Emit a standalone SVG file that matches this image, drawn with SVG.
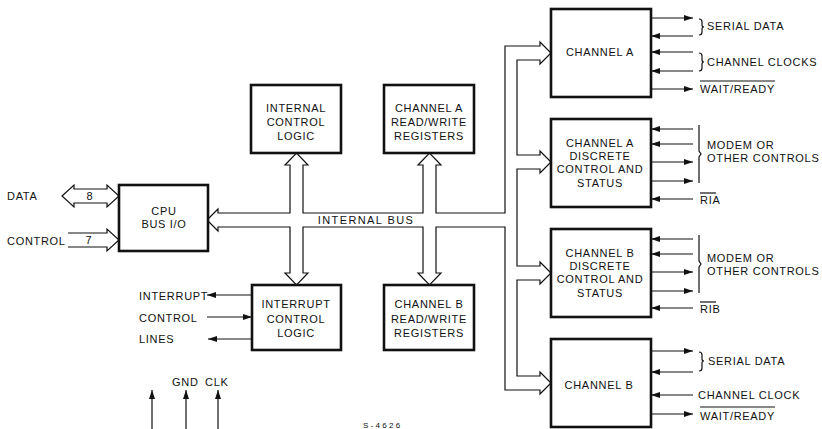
<svg xmlns="http://www.w3.org/2000/svg" width="822" height="429" viewBox="0 0 822 429">
<defs>
<style>
text{font-family:"Liberation Sans","DejaVu Sans",Arial,sans-serif;font-size:11px;letter-spacing:0.7px;fill:#111}
.c{text-anchor:middle}
.box{fill:#fff;stroke:#111;stroke-width:2.6}
.ln{fill:none;stroke:#111;stroke-width:1.2}
.sig{fill:none;stroke:#111;stroke-width:1.2;marker-end:url(#ah)}
.hol{fill:#fff;stroke:#111;stroke-width:1.2;stroke-linejoin:miter}
</style>
<marker id="ah" markerWidth="9" markerHeight="6" refX="9" refY="3" orient="auto" markerUnits="userSpaceOnUse"><path d="M0,0 L9,3 L0,6 z" fill="#111"/></marker>
</defs>
<rect width="822" height="429" fill="#fff"/>

<g id="connectors">
<!-- internal bus -->
<path class="hol" d="M207,220 L218,209 L218,213 L290,213 L290,165 L285,165 L296.5,153 L308,165 L303,165 L303,213 L423,213 L423,165 L418,165 L429.5,153 L441,165 L436,165 L436,213 L505,213 L505,46 L540,46 L540,42 L551,53 L540,64 L540,60 L517,60 L517,155 L540,155 L540,151 L551,162 L540,173 L540,169 L517,169 L517,266 L540,266 L540,262 L551,273 L540,284 L540,280 L517,280 L517,376 L540,376 L540,372 L551,383 L540,394 L540,390 L505,390 L505,227 L436,227 L436,273 L441,273 L429.5,285 L418,273 L423,273 L423,227 L303,227 L303,273 L308,273 L296.5,285 L285,273 L290,273 L290,227 L218,227 L218,231 Z"/>
<!-- data / control -->
<path class="hol" d="M62,196 L74,185 L74,189 L107,189 L107,185 L119,196 L107,207 L107,203 L74,203 L74,207 Z"/>
<path class="hol" d="M68,233 L107,233 L107,229 L119,240 L107,251 L107,247 L68,247"/>
<!-- interrupt lines -->
<line class="sig" x1="252" y1="295" x2="207" y2="295"/>
<line class="sig" x1="207" y1="317" x2="252" y2="317"/>
<line class="sig" x1="252" y1="339" x2="208" y2="339"/>
<!-- gnd / clk -->
<line class="sig" x1="152" y1="429" x2="152" y2="390"/>
<line class="sig" x1="186" y1="429" x2="186" y2="390"/>
<line class="sig" x1="218" y1="429" x2="218" y2="390"/>
<!-- channel A -->
<line class="sig" x1="651" y1="18" x2="693" y2="18"/>
<line class="sig" x1="693" y1="36" x2="651" y2="36"/>
<line class="sig" x1="693" y1="52" x2="651" y2="52"/>
<line class="sig" x1="693" y1="71" x2="651" y2="71"/>
<line class="sig" x1="651" y1="89" x2="693" y2="89"/>
<!-- channel A discrete -->
<line class="sig" x1="693" y1="129" x2="651" y2="129"/>
<line class="sig" x1="693" y1="144" x2="651" y2="144"/>
<line class="sig" x1="651" y1="162" x2="693" y2="162"/>
<line class="sig" x1="651" y1="181" x2="693" y2="181"/>
<line class="sig" x1="693" y1="199" x2="651" y2="199"/>
<!-- channel B discrete -->
<line class="sig" x1="693" y1="239" x2="651" y2="239"/>
<line class="sig" x1="693" y1="254" x2="651" y2="254"/>
<line class="sig" x1="651" y1="272" x2="693" y2="272"/>
<line class="sig" x1="651" y1="291" x2="693" y2="291"/>
<line class="sig" x1="693" y1="308" x2="651" y2="308"/>
<!-- channel B -->
<line class="sig" x1="651" y1="351" x2="693" y2="351"/>
<line class="sig" x1="693" y1="372" x2="651" y2="372"/>
<line class="sig" x1="693" y1="395" x2="651" y2="395"/>
<line class="sig" x1="651" y1="414" x2="693" y2="414"/>
<!-- braces -->
<path class="ln" d="M699,19 Q702,19 702,22 L702,25 Q702,27 704,27 Q702,27 702,29 L702,32 Q702,35 699,35"/>
<path class="ln" d="M699,53 Q702,53 702,56 L702,60 Q702,62 704,62 Q702,62 702,64 L702,68 Q702,71 699,71"/>
<path class="ln" d="M699,125 L699,151 L701,154 L699,157 L699,183"/>
<path class="ln" d="M699,235 L699,261 L701,264 L699,267 L699,293"/>
<path class="ln" d="M699,352 Q702,352 702,355 L702,359 Q702,361 704,361 Q702,361 702,363 L702,368 Q702,371 699,371"/>
<!-- overlines -->
<line class="ln" x1="700" y1="81" x2="775" y2="81"/>
<line class="ln" x1="700" y1="193" x2="716" y2="193"/>
<line class="ln" x1="700" y1="302" x2="716" y2="302"/>
<line class="ln" x1="700" y1="407" x2="775" y2="407"/>
</g>

<g id="cpu-bus-io">
<rect class="box" x="119" y="185" width="89" height="66"/>
<text class="c" x="164" y="215">CPU</text>
<text class="c" x="164" y="228">BUS I/O</text>
</g>
<g id="internal-control-logic">
<rect class="box" x="251" y="85" width="90" height="68"/>
<text class="c" x="296" y="112">INTERNAL</text>
<text class="c" x="296" y="126">CONTROL</text>
<text class="c" x="296" y="140">LOGIC</text>
</g>
<g id="channel-a-rw">
<rect class="box" x="384" y="85" width="90" height="68"/>
<text class="c" x="429" y="112">CHANNEL A</text>
<text class="c" x="429" y="126">READ/WRITE</text>
<text class="c" x="429" y="140">REGISTERS</text>
</g>
<g id="interrupt-control-logic">
<rect class="box" x="252" y="285" width="89" height="65"/>
<text class="c" x="296" y="308">INTERRUPT</text>
<text class="c" x="296" y="323">CONTROL</text>
<text class="c" x="296" y="337">LOGIC</text>
</g>
<g id="channel-b-rw">
<rect class="box" x="384" y="285" width="90" height="65"/>
<text class="c" x="429" y="308">CHANNEL B</text>
<text class="c" x="429" y="323">READ/WRITE</text>
<text class="c" x="429" y="337">REGISTERS</text>
</g>
<g id="channel-a">
<rect class="box" x="551" y="9" width="100" height="88"/>
<text class="c" x="600" y="56">CHANNEL A</text>
</g>
<g id="channel-a-discrete">
<rect class="box" x="551" y="119" width="100" height="88"/>
<text class="c" x="600" y="147">CHANNEL A</text>
<text class="c" x="600" y="160">DISCRETE</text>
<text class="c" x="600" y="173">CONTROL AND</text>
<text class="c" x="600" y="187">STATUS</text>
</g>
<g id="channel-b-discrete">
<rect class="box" x="551" y="229" width="100" height="88"/>
<text class="c" x="600" y="257">CHANNEL B</text>
<text class="c" x="600" y="270">DISCRETE</text>
<text class="c" x="600" y="283">CONTROL AND</text>
<text class="c" x="600" y="297">STATUS</text>
</g>
<g id="channel-b">
<rect class="box" x="551" y="339" width="100" height="88"/>
<text class="c" x="599" y="389">CHANNEL B</text>
</g>

<g id="labels">
<text x="7" y="200">DATA</text>
<text x="7" y="245">CONTROL</text>
<text class="c" x="90" y="200">8</text>
<text class="c" x="89" y="244">7</text>
<text class="c" x="366" y="224" style="letter-spacing:1.4px">INTERNAL BUS</text>
<text x="139" y="300">INTERRUPT</text>
<text x="139" y="322">CONTROL</text>
<text x="139" y="343">LINES</text>
<text x="172" y="386">GND</text>
<text x="205" y="386">CLK</text>
<text x="363" y="428" style="font-size:8px;letter-spacing:2.3px">S-4626</text>
<text x="707" y="30">SERIAL DATA</text>
<text x="707" y="66">CHANNEL CLOCKS</text>
<text x="700" y="93">WAIT/READY</text>
<text x="707" y="149">MODEM OR</text>
<text x="707" y="162">OTHER CONTROLS</text>
<text x="700" y="204">RIA</text>
<text x="707" y="262">MODEM OR</text>
<text x="707" y="275">OTHER CONTROLS</text>
<text x="700" y="313">RIB</text>
<text x="708" y="365">SERIAL DATA</text>
<text x="698" y="399">CHANNEL CLOCK</text>
<text x="700" y="420">WAIT/READY</text>
</g>
</svg>
